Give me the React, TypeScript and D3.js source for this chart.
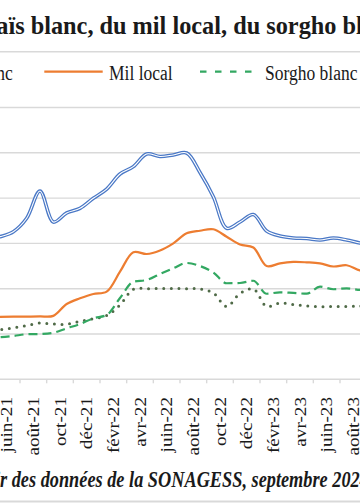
import React from "react";
import * as d3 from "d3";

const months = [
  "mai-21", "juin-21", "juil-21", "août-21", "sept-21", "oct-21", "nov-21", "déc-21",
  "janv-22", "févr-22", "mars-22", "avr-22", "mai-22", "juin-22", "juil-22", "août-22",
  "sept-22", "oct-22", "nov-22", "déc-22", "janv-23", "févr-23", "mars-23", "avr-23",
  "mai-23", "juin-23", "juil-23", "août-23", "sept-23", "oct-23",
];

const maisBlanc = [
  154, 157.4, 162.9, 177.7, 207.8, 173.6, 183.6, 188.7, 199.8, 210, 226.6, 234.7, 248.7,
  245.9, 247.6, 249.8, 228.3, 201.5, 166.7, 173.6, 181.9, 163.7, 158.2, 156, 155.4, 153.8,
  156, 153.8, 150.4, 148,
];

const milLocal = [
  69, 69, 69.2, 69.2, 69.4, 70, 83.1, 89.4, 94.2, 96.7, 118.8, 140.3, 138.3, 142.2, 150.1,
  161.1, 164, 165.6, 157.4, 148.8, 145.5, 125, 128, 129.5, 129.1, 128, 124.5, 125.9, 120.1,
  118,
];

const sorghoBlanc = [
  45.6, 46.4, 47.8, 49.7, 50, 51.4, 56.3, 61, 67.3, 71, 89.7, 107.7, 109.6, 116.2, 122.5,
  128.4, 125, 117.9, 106, 106.3, 108.8, 94.4, 96, 95.3, 94.5, 102.2, 99.4, 100.4, 98.6, 98,
];

const sorghoRouge = [
  53.3, 54.7, 56.8, 59.4, 62.1, 61, 60.8, 64.1, 66.9, 70.4, 82, 99.4, 100, 100.2, 100.2,
  100, 99.7, 95.3, 80.4, 94.7, 99.7, 80.4, 84.2, 82.6, 80.9, 80.1, 80.4, 80.4, 80.7, 80.5,
];

const yTicks = [0, 50, 100, 150, 200, 250, 300];

const seriesNames = ["Maïs blanc", "Mil local", "Sorgho blanc"];

const serif = "'Liberation Serif', 'Times New Roman', serif";

export default function App() {
  const x = d3.scaleLinear().domain([1, 28]).range([0, 360]);
  const y = d3.scaleLinear().domain([0, 300]).range([379.3, 107.5]);

  const mk = (curve: any) =>
    d3
      .line<number>()
      .x((_, i) => x(i))
      .y((d) => y(d))
      .curve(curve);

  const smooth = mk(d3.curveCatmullRom.alpha(0.5));
  const mono = mk(d3.curveMonotoneX);

  const labelIdx = months.map((_, i) => i).filter((i) => i % 2 === 1);
  const tickIdx = months.map((_, i) => i).filter((i) => i % 2 === 1);

  const gray = "#D9D9D9";

  return (
    <svg
      width={360}
      height={504}
      style={{ position: "absolute", left: 0, top: 0, background: "#fff" }}
    >
      <rect x={0} y={0} width={360} height={504} fill="#fff" />
      {/* title */}
      <text
        x={-24}
        y={33.5}
        fontFamily={serif}
        fontWeight="bold"
        fontSize={24.3}
        fill="#1a1a1a"
      >
        maïs blanc, du mil local, du sorgho blanc
      </text>
      <line x1={0} x2={360} y1={51.7} y2={51.7} stroke={gray} strokeWidth={1.5} />

      {/* legend */}
      <g fontFamily={serif} fontSize={17.5} fill="#1a1a1a">
        <line x1={-107} x2={-72} y1={71.7} y2={71.7} stroke="#4472C4" strokeWidth={3.5} />
        <line x1={-107} x2={-72} y1={71.7} y2={71.7} stroke="#fff" strokeWidth={1.1} />
        <text transform="translate(12.7,80) scale(1,1.25)" textAnchor="end">
          {seriesNames[0]}
        </text>
        <line x1={44.3} x2={102.7} y1={71.7} y2={71.7} stroke="#ED7D31" strokeWidth={2.2} />
        <text transform="translate(109,80) scale(1,1.25)">{seriesNames[1]}</text>
        <line
          x1={200}
          x2={253}
          y1={71.7}
          y2={71.7}
          stroke="#33A862"
          strokeWidth={2.2}
          strokeDasharray="6.5 8.5"
        />
        <text transform="translate(265,80) scale(1,1.25)">{seriesNames[2]}</text>
      </g>

      {/* gridlines */}
      {yTicks.map((t) => (
        <line
          key={t}
          x1={0}
          x2={360}
          y1={y(t)}
          y2={y(t)}
          stroke={gray}
          strokeWidth={1.4}
        />
      ))}
      {/* ticks */}
      {tickIdx.map((i) => (
        <line
          key={"t" + i}
          x1={x(i + 1.5)}
          x2={x(i + 1.5)}
          y1={y(0)}
          y2={y(0) + 4}
          stroke={gray}
          strokeWidth={1.4}
        />
      ))}
      {/* tick labels */}
      <g fontFamily={serif} fontSize={16} fill="#1a1a1a">
        {labelIdx.map((i) => (
          <text
            key={"l" + i}
            transform={`translate(${x(i + 0.5)},397) rotate(-90) scale(1.2,1)`}
            textAnchor="end"
            dy="0.35em"
          >
            {months[i]}
          </text>
        ))}
      </g>

      {/* series */}
      <path d={smooth(sorghoRouge) || ""} fill="none" stroke="#4F6A47" strokeWidth={3}
        strokeLinecap="round" strokeDasharray="0 7.6" />
      <path d={mono(sorghoBlanc) || ""} fill="none" stroke="#33A862" strokeWidth={2.2}
        strokeDasharray="9 5" />
      <path d={smooth(milLocal) || ""} fill="none" stroke="#ED7D31" strokeWidth={2.2} />
      <path d={smooth(maisBlanc) || ""} fill="none" stroke="#4A78C6" strokeWidth={3.6} />
      <path d={smooth(maisBlanc) || ""} fill="none" stroke="#fff" strokeWidth={1.1} />

      {/* footer */}
      <g fontFamily={serif} fontSize={18.3} fontWeight="bold" fontStyle="italic" fill="#1a1a1a">
        <text transform="translate(7.2,487) scale(1,1.25)" textAnchor="end">
          Source : à partir
        </text>
        <text transform="translate(11.7,487) scale(1,1.25)">
          des données de la SONAGESS, septembre 2024
        </text>
      </g>
      <line x1={0} x2={360} y1={501.5} y2={501.5} stroke={gray} strokeWidth={2} />
    </svg>
  );
}
